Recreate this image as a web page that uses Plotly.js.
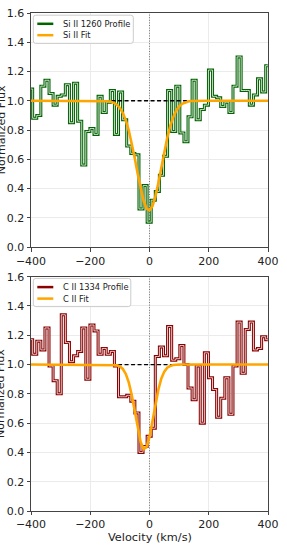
<!DOCTYPE html>
<html><head><meta charset="utf-8">
<script src="https://cdn.plot.ly/plotly-3.0.1.min.js"></script>
<style>html,body{margin:0;padding:0;background:#fff;} #chart{width:287px;height:550px;}</style>
</head><body><div id="chart"></div>
<script>
// ---- data ----
const velocity = [-401.3, -387.5, -373.7, -359.9, -346.1, -332.3, -318.5, -304.7, -290.9, -277.1,
  -263.3, -249.5, -235.7, -221.9, -208.1, -194.3, -180.5, -166.7, -152.9, -139.1,
  -125.3, -111.5, -97.7, -83.9, -70.1, -56.3, -42.5, -28.7, -14.9, -1.1,
  12.7, 26.5, 40.3, 54.1, 67.9, 81.7, 95.5, 109.3, 123.1, 136.9,
  150.7, 164.5, 178.3, 192.1, 205.9, 219.7, 233.5, 247.3, 261.1, 274.9,
  288.7, 302.5, 316.3, 330.1, 343.9, 357.7, 371.5, 385.3, 399.1];
const siFlux = [1.08, 0.88, 0.90, 1.10, 1.14, 1.05, 0.97, 1.03, 1.04, 1.11,
  0.85, 1.12, 0.86, 0.56, 0.79, 0.81, 0.77, 1.03, 0.92, 0.99,
  1.07, 0.77, 1.06, 0.87, 0.69, 0.64, 0.63, 0.26, 0.42, 0.17,
  0.32, 0.38, 0.49, 0.62, 1.07, 0.79, 1.10, 0.78, 0.72, 0.89,
  1.14, 0.87, 0.94, 0.97, 1.21, 1.03, 1.02, 0.96, 0.99, 0.92,
  1.10, 1.30, 1.07, 1.07, 0.97, 1.04, 1.15, 1.06, 1.24];
const cFlux = [1.17, 1.07, 1.16, 1.10, 1.25, 0.99, 0.89, 0.80, 1.34, 1.15,
  1.02, 1.06, 1.09, 1.25, 0.90, 1.27, 1.23, 1.07, 1.11, 1.07,
  1.09, 0.99, 0.78, 0.78, 0.79, 0.75, 0.67, 0.40, 0.44, 0.51,
  0.565, 1.055, 1.12, 1.06, 1.26, 1.03, 1.04, 1.13, 1.00, 0.84,
  0.76, 0.99, 0.60, 1.08, 0.91, 0.83, 0.64, 0.77, 0.91, 0.66,
  0.99, 1.29, 0.94, 1.24, 1.29, 1.10, 1.11, 1.19, 1.17];
const siFitVelocity = [-400, -200, -150, -140, -130, -120, -110, -100, -90, -80, -70, -60, -50, -40, -30, -20, -10,
  0, 10, 20, 30, 40, 50, 60, 70, 80, 90, 100, 110, 120, 130, 140, 150, 200, 400];
const siFitFlux = [1, 1, 0.998, 0.997, 0.993, 0.986, 0.972, 0.951, 0.916, 0.866, 0.798, 0.711, 0.610, 0.502, 0.399, 0.316, 0.263,
  0.251, 0.280, 0.346, 0.439, 0.545, 0.651, 0.748, 0.827, 0.888, 0.932, 0.961, 0.979, 0.989, 0.995, 0.998, 0.999, 1, 1];
const cFitVelocity = [-400, -200, -130, -120, -110, -100, -90, -80, -70, -60, -50, -40, -30, -20, -10,
  0, 10, 20, 30, 40, 50, 60, 70, 80, 90, 100, 200, 400];
const cFitFlux = [1, 1, 1.0, 0.998, 0.995, 0.987, 0.970, 0.936, 0.878, 0.792, 0.683, 0.568, 0.472, 0.423, 0.436,
  0.506, 0.613, 0.729, 0.830, 0.905, 0.952, 0.978, 0.991, 0.997, 0.999, 1.0, 1, 1];
const continuumVelocity = [-150, 150];
const continuumFlux = [1, 1];
const zeroVelocity = [0, 0];
const zeroFluxSpan = [0, 1.6];
const xTicks = [-400, -200, 0, 200, 400];
const yTicks = [0, 0.2, 0.4, 0.6, 0.8, 1.0, 1.2, 1.4, 1.6];
const siLabels = ['Si II 1260 Profile', 'Si II Fit'];
const cLabels = ['C II 1334 Profile', 'C II Fit'];
const xTitle = 'Velocity (km/s)';
const yTitle = 'Normalized Flux';

// ---- styling ----
const FONT = 'DejaVu Sans';
const GREEN = '#006400', RED = '#8B0000', ORANGE = '#FFA500';
const L = 31, T = 13, W = 237, H = 498;
const px = p => (p - L) / W;
const py = p => 1 - (p - T) / H;

function panelTraces(xa, ya, flux, color, fitV, fitF) {
  return [
    {x: zeroVelocity, y: zeroFluxSpan, xaxis: xa, yaxis: ya, mode: 'lines',
     line: {color: '#666', width: 0.9, dash: '1px,1.6px'}, hoverinfo: 'skip'},
    {x: velocity, y: flux, xaxis: xa, yaxis: ya, mode: 'lines',
     line: {color: color, width: 3.0, shape: 'hvh'}},
    {x: velocity, y: flux, xaxis: xa, yaxis: ya, mode: 'lines',
     line: {color: '#eeeeee', width: 0.85, shape: 'hvh'}},
    {x: continuumVelocity, y: continuumFlux, xaxis: xa, yaxis: ya, mode: 'lines',
     line: {color: '#000', width: 1.3, dash: '4px,2.5px'}},
    {x: fitV, y: fitF, xaxis: xa, yaxis: ya, mode: 'lines',
     line: {color: ORANGE, width: 2.6}}
  ];
}

const data = [].concat(
  panelTraces('x', 'y', siFlux, GREEN, siFitVelocity, siFitFlux),
  panelTraces('x2', 'y2', cFlux, RED, cFitVelocity, cFitFlux)
);

const xCommon = {range: [-400, 400], tickvals: xTicks, showgrid: true, gridcolor: '#ebebeb', gridwidth: 1,
  zeroline: false, showline: true, mirror: true, linecolor: '#444', linewidth: 1,
  ticks: 'outside', ticklen: 3.5, tickwidth: 1, tickcolor: '#444',
  tickfont: {family: FONT, size: 11, color: '#222'}};
const yCommon = Object.assign({}, xCommon, {range: [0, 1.6], tickvals: yTicks, tickformat: '.1f'});

function roundRect(x0p, y0p, x1p, y1p, r) {
  const a = px(x0p), b = px(x1p), top = py(y0p), bot = py(y1p);
  const rx = r / W, ry = r / H;
  return `M${a + rx},${top} L${b - rx},${top} Q${b},${top} ${b},${top - ry} L${b},${bot + ry} Q${b},${bot} ${b - rx},${bot} L${a + rx},${bot} Q${a},${bot} ${a},${bot + ry} L${a},${top - ry} Q${a},${top} ${a + rx},${top} Z`;
}

function legendParts(box, rows, colors, labels) {
  const shapes = [{type: 'path', xref: 'paper', yref: 'paper', path: roundRect(box[0], box[1], box[2], box[3], 2.5),
    fillcolor: 'rgba(255,255,255,0.8)', line: {color: '#cccccc', width: 1}, layer: 'above'}];
  const ann = [];
  rows.forEach((r, i) => {
    shapes.push({type: 'line', xref: 'paper', yref: 'paper', x0: px(37.3), x1: px(53.3), y0: py(r), y1: py(r),
      line: {color: colors[i], width: 2.5}, layer: 'above'});
    ann.push({xref: 'paper', yref: 'paper', x: px(60.5), y: py(r), xanchor: 'left', yanchor: 'middle',
      text: labels[i], showarrow: false, font: {family: FONT, size: 8.3, color: '#222'}});
  });
  return {shapes, ann};
}

const lg1 = legendParts([33.3, 15.2, 133.3, 43.4], [23.8, 35.2], [GREEN, ORANGE], siLabels);
const lg2 = legendParts([33.3, 278.4, 130.8, 306.6], [287.1, 298.6], [RED, ORANGE], cLabels);

const annotations = lg1.ann.concat(lg2.ann, [
  {xref: 'paper', yref: 'paper', x: 0.5, y: py(537.5), xanchor: 'center', yanchor: 'middle', showarrow: false,
   text: xTitle, font: {family: FONT, size: 11.3, color: '#222'}},
  {xref: 'paper', yref: 'paper', x: px(1), y: py(130.2), xanchor: 'center', yanchor: 'middle', showarrow: false,
   textangle: -90, text: yTitle, font: {family: FONT, size: 11, color: '#222'}},
  {xref: 'paper', yref: 'paper', x: px(1), y: py(393.9), xanchor: 'center', yanchor: 'middle', showarrow: false,
   textangle: -90, text: yTitle, font: {family: FONT, size: 11, color: '#222'}}
]);

const layout = {
  width: 287, height: 550,
  margin: {l: L, r: 287 - L - W, t: T, b: 550 - T - H, pad: 0},
  paper_bgcolor: '#fff', plot_bgcolor: '#fff',
  showlegend: false,
  font: {family: FONT, color: '#222'},
  xaxis: Object.assign({}, xCommon, {domain: [0, 1], anchor: 'y'}),
  yaxis: Object.assign({}, yCommon, {domain: [py(247), 1], anchor: 'x'}),
  xaxis2: Object.assign({}, xCommon, {domain: [0, 1], anchor: 'y2', ticklen: 3}),
  yaxis2: Object.assign({}, yCommon, {domain: [0, py(276.7)], anchor: 'x2'}),
  shapes: lg1.shapes.concat(lg2.shapes),
  annotations: annotations
};

Plotly.newPlot('chart', data, layout, {staticPlot: true, displayModeBar: false});
</script>
</body></html>
